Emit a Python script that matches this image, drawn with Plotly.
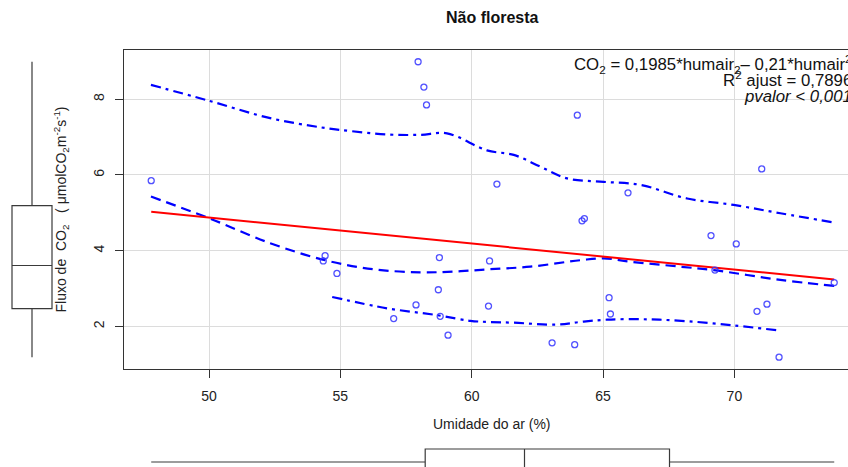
import plotly.graph_objects as go

# ---- data ----
umid = [47.80, 54.35, 54.42, 54.87, 57.03, 57.88, 57.96, 58.18, 58.28, 58.73, 58.77,
        58.80, 59.10, 60.68, 60.64, 60.96, 63.06, 63.92, 64.02, 64.20, 64.29, 65.23,
        65.28, 65.95, 69.11, 69.26, 70.07, 70.86, 71.04, 71.24, 71.70, 73.80]
co2 = [5.85, 3.73, 3.87, 3.40, 2.21, 2.57, 8.99, 8.32, 7.85, 2.97, 3.82,
       2.27, 1.77, 3.73, 2.54, 5.76, 1.57, 1.52, 7.58, 4.79, 4.85, 2.76,
       2.33, 5.53, 4.40, 3.49, 4.18, 2.40, 6.16, 2.59, 1.19, 3.16]

fit_x = [47.80, 73.80]
fit_y = [5.03, 3.24]

mid_x = [47.79, 50.0, 52.33, 54.42, 56.27, 58.04, 59.31, 60.64, 62.23, 64.13, 65.02,
         66.04, 67.94, 69.21, 70.48, 71.75, 73.80]
mid_y = [5.43, 4.86, 4.20, 3.75, 3.51, 3.43, 3.45, 3.51, 3.58, 3.75, 3.80,
         3.71, 3.58, 3.49, 3.36, 3.23, 3.07]

up_x = [47.79, 50.0, 52.33, 54.24, 55.0, 56.78, 58.04, 59.06, 60.58, 61.6, 62.61,
        63.63, 65.02, 66.42, 68.2, 69.97, 71.75, 73.84]
up_y = [8.38, 7.96, 7.50, 7.26, 7.19, 7.07, 7.06, 7.10, 6.65, 6.53, 6.22,
        5.91, 5.82, 5.74, 5.38, 5.21, 4.99, 4.74]

lo_x = [54.69, 56.78, 58.68, 59.95, 60.64, 61.6, 63.25, 64.13, 65.15, 66.67, 68.2, 69.97, 71.62]
lo_y = [2.78, 2.48, 2.30, 2.15, 2.12, 2.10, 2.05, 2.12, 2.18, 2.19, 2.14, 2.03, 1.90]

x_ticks = [50, 55, 60, 65, 70]
y_ticks = [2, 4, 6, 8]

title = "<b>Não floresta</b>"
x_title = "Umidade do ar (%)"
y_title = ("Fluxo de\u00a0\u00a0CO<sub>2</sub>\u00a0\u00a0\u00a0(\u00a0μmolCO<sub>2</sub>"
           "m<sup>-2</sup>s<sup>-1</sup>)")
eq_lines = ["CO<sub>2</sub>\u00a0=\u00a00,1985*humair<sub>2</sub>–\u00a00,21*humair<sup>2</sup>",
            "R<sup>2</sup>\u00a0ajust\u00a0=\u00a00,7896",
            "<i>pvalor\u00a0<\u00a00,001</i>"]

# ---- geometry (pixels) ----
W, H = 848, 467
FONT = "Liberation Sans, Arial, Helvetica, sans-serif"
px_l, px_r, px_t, px_b = 124, 848, 50, 369

fig = go.Figure()

blue = "#0000ff"
fig.add_trace(go.Scatter(x=up_x, y=up_y, mode="lines", line_shape="spline",
                         line=dict(color=blue, width=2.2, dash="10px,5px,3px,5px"),
                         hoverinfo="skip", showlegend=False))
fig.add_trace(go.Scatter(x=lo_x, y=lo_y, mode="lines", line_shape="spline",
                         line=dict(color=blue, width=2.2, dash="10px,5px,3px,5px"),
                         hoverinfo="skip", showlegend=False))
fig.add_trace(go.Scatter(x=mid_x, y=mid_y, mode="lines", line_shape="spline",
                         line=dict(color=blue, width=2.2, dash="10px,6px"),
                         hoverinfo="skip", showlegend=False))
fig.add_trace(go.Scatter(x=fit_x, y=fit_y, mode="lines",
                         line=dict(color="#ff0000", width=2), showlegend=False))
fig.add_trace(go.Scatter(x=umid, y=co2, mode="markers",
                         marker=dict(symbol="circle-open", size=6,
                                     color="rgba(50,50,255,0.85)", line=dict(width=1.3)),
                         showlegend=False))

ppx = 26.27  # pixels per x unit
x0 = 50 - (209.0 - px_l) / ppx
x1 = x0 + (px_r - px_l) / ppx
y_range = [0.878, 9.30]

# marginal boxplots (on their own hidden axes)
fig.add_trace(go.Box(y=co2, x0=0, xaxis="x2", yaxis="y2", boxpoints=False,
                     quartilemethod="exclusive", whiskerwidth=0, width=1.25,
                     line=dict(color="#3a3a3a", width=1.2), fillcolor="rgba(0,0,0,0)",
                     showlegend=False, hoverinfo="skip"))
fig.add_trace(go.Box(x=umid, y0=0, xaxis="x3", yaxis="y3", orientation="h", boxpoints=False,
                     quartilemethod="exclusive", whiskerwidth=0, width=2.6,
                     line=dict(color="#3a3a3a", width=1.2), fillcolor="rgba(0,0,0,0)",
                     showlegend=False, hoverinfo="skip"))

axis_common = dict(showgrid=True, gridcolor="#dcdcdc", gridwidth=1, zeroline=False,
                   showline=True, linecolor="#333333", linewidth=1.3,
                   ticks="outside", ticklen=8, tickcolor="#333333", tickwidth=1,
                   tickfont=dict(family=FONT, size=14, color="#222222"))

y_dom = [(H - px_b) / H, (H - px_t) / H]
x_dom = [px_l / W, 1]

fig.update_layout(
    width=W, height=H,
    margin=dict(l=0, r=0, t=0, b=0),
    paper_bgcolor="white", plot_bgcolor="white",
    font=dict(family=FONT, color="#111111"),
    xaxis=dict(domain=x_dom, range=[x0, x1], tickvals=x_ticks,
               anchor="y", mirror=True, ticklabelstandoff=6, **axis_common),
    yaxis=dict(domain=y_dom, range=y_range,
               tickvals=y_ticks, tickangle=-90, anchor="x", ticklabelstandoff=5,
               **axis_common),
    xaxis2=dict(domain=[0, 64 / W], range=[-1, 1], visible=False, anchor="y2"),
    yaxis2=dict(domain=y_dom, range=y_range, visible=False, anchor="x2"),
    xaxis3=dict(domain=x_dom, range=[x0, x1], visible=False, anchor="y3"),
    yaxis3=dict(domain=[0, 30 / H], range=[-0.5, 2.5], visible=False, anchor="x3"),
)

ann = []
ann.append(dict(text=title, x=492.5 / W, y=1 - 18 / H, xref="paper", yref="paper",
                xanchor="center", yanchor="middle", showarrow=False,
                font=dict(family=FONT, size=16, color="#111111")))
ann.append(dict(text=x_title, x=492 / W, y=1 - 424 / H, xref="paper", yref="paper",
                xanchor="center", yanchor="middle", showarrow=False,
                font=dict(family=FONT, size=14, color="#222222")))
ann.append(dict(text=y_title, x=61 / W, y=1 - 209.5 / H, xref="paper", yref="paper",
                xanchor="center", yanchor="middle", textangle=-90, showarrow=False,
                font=dict(family=FONT, size=14, color="#222222")))
for txt, yc in zip(eq_lines, [63.5, 79, 96]):
    ann.append(dict(text=txt, x=854 / W, y=1 - yc / H, xref="paper", yref="paper",
                    xanchor="right", yanchor="middle", align="right", showarrow=False,
                    font=dict(family=FONT, size=16.8, color="#111111")))
fig.update_layout(annotations=ann)

fig.write_html("out.html")
